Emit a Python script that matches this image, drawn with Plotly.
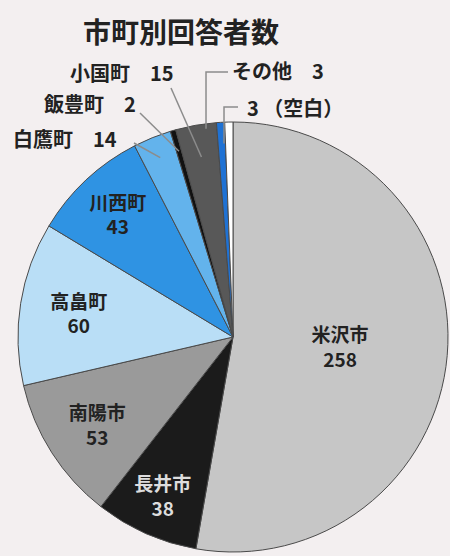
import math
import plotly.graph_objects as go

# ---- data ----
labels = ["米沢市", "長井市", "南陽市", "高畠町", "川西町", "白鷹町", "飯豊町", "小国町", "その他", "（空白）"]
values = [258, 38, 53, 60, 43, 14, 2, 15, 3, 3]
title_text = "市町別回答者数"

# ---- styles ----
colors = ["#c6c6c6", "#1b1b1b", "#9a9a9a", "#b9def6", "#2f93e3", "#63b3ec",
          "#111111", "#585858", "#1f72d4", "#ffffff"]
inside = [True, True, True, True, True, False, False, False, False, False]
text_colors = ["#222222", "#dddddd", "#222222", "#222222", "#222222",
               "#222222", "#222222", "#222222", "#222222", "#222222"]
FONT = "Noto Sans CJK JP"

W, H = 450, 556
CX, CY, R = 233, 337, 215  # pie centre / radius in pixels

texts = [f"{l}<br>{v}" if ins else "" for l, v, ins in zip(labels, values, inside)]

fig = go.Figure(go.Pie(
    labels=labels, values=values, sort=False, direction="clockwise", rotation=0,
    text=texts, textinfo="text", textposition="inside",
    insidetextorientation="horizontal",
    insidetextfont=dict(family=FONT, size=19, color=text_colors, weight="bold"),
    marker=dict(colors=colors, line=dict(color="#4a4a4a", width=1)),
    domain=dict(x=[(CX - R) / W, (CX + R) / W], y=[1 - (CY + R) / H, 1 - (CY - R) / H]),
    showlegend=False, hoverinfo="label+value",
))

def px2paper(px, py):
    return px / W, 1 - py / H

total = sum(values)
cum = 0
mid_angle = []
for v in values:
    mid_angle.append((cum + v / 2) / total * 2 * math.pi)
    cum += v

def slice_point(i, frac):
    a = mid_angle[i]
    return CX + frac * R * math.sin(a), CY - frac * R * math.cos(a)

annotations = [dict(text=title_text, x=181 / W, y=1 - 31 / H, xref="paper", yref="paper",
                    showarrow=False, xanchor="center", yanchor="middle",
                    font=dict(family=FONT, size=28, color="#222222", weight="bold"))]
shapes = []

# outside labels: (index, text, label centre px, leader start px, elbow, depth)
outside = [
    (5, f"{labels[5]}\u3000{values[5]}", (65, 138), (134, 143), None, 0.9),
    (6, f"{labels[6]}\u3000{values[6]}", (90, 104), (140, 113), None, 0.9),
    (7, f"{labels[7]}\u3000{values[7]}", (122, 73), (171, 88), None, 0.85),
    (8, f"{labels[8]}\u3000{values[8]}", (278, 71), (228, 72), (206, 72), 0.97),
    (9, f"{values[9]} {labels[9]}", (295, 107), (238, 107), (224, 107), 0.9),
]
for i, txt, (tx, ty), (sx, sy), elbow, frac in outside:
    x, y = px2paper(tx, ty)
    annotations.append(dict(text=txt, x=x, y=y, xref="paper", yref="paper", showarrow=False,
                            xanchor="center", yanchor="middle",
                            font=dict(family=FONT, size=20, color="#222222", weight="bold")))
    hx, hy = slice_point(i, frac)
    pts = [(sx, sy)]
    if elbow is not None:
        pts.append((elbow[0], elbow[1]))
        hx = elbow[0]
    pts.append((hx, hy))
    ppts = [px2paper(a, b) for a, b in pts]
    path = "M " + " L ".join(f"{a:.4f},{b:.4f}" for a, b in ppts)
    shapes.append(dict(type="path", path=path, xref="paper", yref="paper",
                       line=dict(color="#8c8c8c", width=1.5)))

fig.update_layout(
    width=W, height=H, margin=dict(l=0, r=0, t=0, b=0),
    paper_bgcolor="#f3eff0", plot_bgcolor="#f3eff0",
    annotations=annotations, shapes=shapes,
)
fig.write_html("out.html")
